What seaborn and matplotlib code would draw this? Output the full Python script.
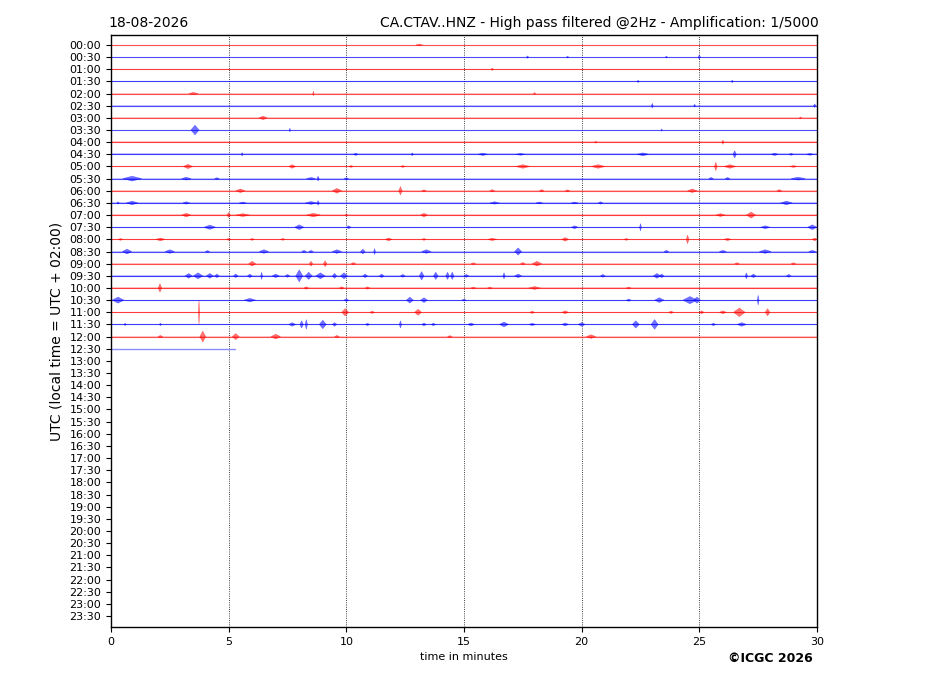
import matplotlib
matplotlib.use("Agg")
import matplotlib.pyplot as plt
import numpy as np
import pandas as pd
import seaborn as sns

sns.set_style("ticks")
plt.rcParams['font.family'] = ['DejaVu Sans']
plt.rcParams.update({"text.color": "black", "axes.labelcolor": "black",
                     "xtick.color": "black", "ytick.color": "black",
                     "axes.edgecolor": "black"})

date_label = "18-08-2026"
title_text = "CA.CTAV..HNZ - High pass filtered @2Hz - Amplification: 1/5000"
ylabel_text = "UTC (local time = UTC + 02:00)"
xlabel_text = "time in minutes"
copyright_text = "\u00a9ICGC 2026"

row_labels = [f"{h:02d}:{m:02d}" for h in range(24) for m in (0, 30)]
x_ticks = [0, 5, 10, 15, 20, 25, 30]

# end minute of each recorded row (00:00 .. 12:30)
trace_end = [30] * 25 + [5.27]
trace_colors = ["red", "blue"] * 13
# background noise half-thickness per row (row units)
row_noise = [0.03, 0.03, 0.04, 0.07, 0.04, 0.03, 0.04, 0.03, 0.07, 0.07, 0.05, 0.05, 0.05,
             0.05, 0.07, 0.05, 0.07, 0.05, 0.05, 0.06, 0.08, 0.05, 0.05, 0.05, 0.05, 0.0]

# events per row: (minute, half-amplitude in row units, duration in minutes)
events_0000 = [(13.1, 0.08, 0.3)]
events_0030 = [(17.7, 0.1, 0.1), (19.4, 0.08, 0.1), (23.6, 0.08, 0.1), (25.0, 0.18, 0.1)]
events_0100 = [(16.2, 0.1, 0.1)]
events_0130 = [(22.4, 0.1, 0.1), (26.4, 0.1, 0.1)]
events_0200 = [(3.5, 0.1, 0.4), (8.6, 0.2, 0.05), (18.0, 0.08, 0.1)]
events_0230 = [(23.0, 0.2, 0.08), (24.8, 0.12, 0.08), (29.9, 0.15, 0.1)]
events_0300 = [(6.46, 0.15, 0.35), (29.3, 0.08, 0.1)]
events_0330 = [(3.57, 0.4, 0.35), (7.6, 0.15, 0.06), (23.4, 0.1, 0.06)]
events_0400 = [(20.6, 0.08, 0.1), (26.0, 0.18, 0.08)]
events_0430 = [(5.57, 0.15, 0.06), (10.4, 0.1, 0.2), (12.8, 0.12, 0.1), (15.8, 0.1, 0.4),
               (17.4, 0.08, 0.4), (22.6, 0.12, 0.5), (26.5, 0.3, 0.15), (28.2, 0.1, 0.3),
               (28.9, 0.08, 0.2), (29.7, 0.08, 0.3)]
events_0500 = [(3.27, 0.18, 0.4), (7.7, 0.15, 0.3), (10.2, 0.08, 0.2), (12.4, 0.08, 0.2),
               (17.5, 0.15, 0.6), (20.7, 0.15, 0.6), (25.7, 0.35, 0.12), (26.3, 0.15, 0.5),
               (29.0, 0.08, 0.3)]
events_0530 = [(0.9, 0.2, 0.8), (3.2, 0.12, 0.4), (4.5, 0.08, 0.2), (8.5, 0.1, 0.4),
               (8.8, 0.2, 0.1), (10.0, 0.08, 0.2), (25.5, 0.1, 0.2), (26.2, 0.1, 0.2),
               (29.2, 0.12, 0.6)]
events_0600 = [(5.5, 0.15, 0.4), (9.6, 0.2, 0.4), (12.3, 0.35, 0.15), (13.3, 0.08, 0.2),
               (16.2, 0.1, 0.2), (18.3, 0.1, 0.2), (19.4, 0.08, 0.2), (24.7, 0.15, 0.4),
               (28.4, 0.1, 0.2)]
events_0630 = [(0.3, 0.1, 0.1), (0.9, 0.15, 0.5), (3.2, 0.1, 0.3), (5.6, 0.08, 0.3),
               (8.5, 0.12, 0.5), (8.8, 0.2, 0.1), (16.3, 0.1, 0.4), (18.2, 0.08, 0.3),
               (19.7, 0.08, 0.3), (20.8, 0.1, 0.2), (28.7, 0.15, 0.5)]
events_0700 = [(3.2, 0.15, 0.4), (5.0, 0.2, 0.15), (5.6, 0.12, 0.6), (8.6, 0.15, 0.6),
               (10.0, 0.1, 0.1), (13.3, 0.15, 0.3), (25.9, 0.12, 0.4), (27.2, 0.25, 0.4)]
events_0730 = [(4.2, 0.18, 0.5), (8.0, 0.2, 0.4), (10.1, 0.12, 0.2), (19.7, 0.12, 0.3),
               (22.5, 0.3, 0.08), (27.8, 0.12, 0.4), (29.8, 0.2, 0.4)]
events_0800 = [(0.4, 0.08, 0.2), (2.1, 0.12, 0.4), (5.0, 0.08, 0.2), (6.0, 0.08, 0.2),
               (7.3, 0.08, 0.2), (11.8, 0.12, 0.3), (13.3, 0.08, 0.2), (16.2, 0.1, 0.4),
               (19.3, 0.15, 0.3), (21.9, 0.08, 0.2), (24.5, 0.35, 0.12), (26.2, 0.1, 0.3),
               (29.9, 0.12, 0.2)]
events_0830 = [(0.68, 0.2, 0.4), (2.5, 0.15, 0.4), (4.1, 0.08, 0.2), (6.5, 0.15, 0.4),
               (8.2, 0.1, 0.2), (8.5, 0.1, 0.2), (9.6, 0.15, 0.4), (10.7, 0.2, 0.2),
               (11.2, 0.25, 0.08), (13.4, 0.15, 0.4), (17.3, 0.3, 0.3), (23.6, 0.1, 0.2),
               (26.0, 0.1, 0.3), (27.8, 0.15, 0.5), (29.8, 0.1, 0.3)]
events_0900 = [(6.0, 0.2, 0.3), (8.5, 0.2, 0.15), (9.1, 0.25, 0.15), (10.3, 0.1, 0.2),
               (15.4, 0.08, 0.2), (17.5, 0.1, 0.2), (18.1, 0.2, 0.4), (26.6, 0.08, 0.2),
               (29.0, 0.08, 0.2)]
events_0930 = [(3.3, 0.2, 0.3), (3.7, 0.25, 0.4), (4.2, 0.2, 0.3), (4.5, 0.15, 0.2),
               (5.3, 0.15, 0.2), (5.9, 0.15, 0.2), (6.4, 0.3, 0.08), (7.0, 0.15, 0.3),
               (7.5, 0.12, 0.2), (8.0, 0.5, 0.3), (8.4, 0.3, 0.3), (8.9, 0.25, 0.4),
               (9.5, 0.2, 0.2), (9.9, 0.25, 0.3), (10.8, 0.15, 0.2), (11.5, 0.15, 0.2),
               (12.4, 0.12, 0.2), (13.2, 0.35, 0.2), (13.8, 0.3, 0.2), (14.3, 0.3, 0.15),
               (14.5, 0.3, 0.15), (15.1, 0.12, 0.2), (16.7, 0.25, 0.1), (17.3, 0.15, 0.3),
               (20.9, 0.12, 0.2), (23.2, 0.2, 0.3), (23.4, 0.15, 0.2), (27.0, 0.25, 0.1),
               (27.3, 0.15, 0.2), (28.8, 0.12, 0.2)]
events_1000 = [(2.08, 0.35, 0.15), (8.3, 0.1, 0.2), (9.8, 0.1, 0.2), (10.9, 0.1, 0.2),
               (15.4, 0.08, 0.2), (16.1, 0.08, 0.2), (18.0, 0.12, 0.5), (22.0, 0.08, 0.2)]
events_1030 = [(0.3, 0.25, 0.5), (5.9, 0.15, 0.5), (10.0, 0.12, 0.2), (12.7, 0.25, 0.3),
               (13.3, 0.2, 0.3), (15.0, 0.08, 0.2), (22.0, 0.1, 0.2), (23.3, 0.2, 0.4),
               (24.6, 0.3, 0.6), (24.9, 0.25, 0.3), (27.5, 0.4, 0.08)]
events_1100 = [(3.74, 1.0, 0.06), (9.95, 0.3, 0.3), (11.1, 0.1, 0.2), (13.05, 0.25, 0.3),
               (17.9, 0.1, 0.2), (19.3, 0.12, 0.3), (23.8, 0.1, 0.2), (25.1, 0.12, 0.2),
               (26.0, 0.12, 0.3), (26.7, 0.35, 0.5), (27.9, 0.3, 0.2)]
events_1130 = [(0.6, 0.1, 0.1), (2.1, 0.1, 0.1), (7.7, 0.15, 0.3), (8.1, 0.3, 0.15),
               (8.3, 0.4, 0.1), (9.0, 0.35, 0.3), (9.5, 0.15, 0.2), (10.9, 0.1, 0.2),
               (12.3, 0.3, 0.1), (13.3, 0.12, 0.2), (13.7, 0.1, 0.2), (15.3, 0.12, 0.3),
               (16.7, 0.2, 0.4), (17.9, 0.1, 0.3), (19.3, 0.12, 0.3), (20.0, 0.15, 0.3),
               (22.3, 0.3, 0.3), (23.1, 0.4, 0.3), (25.6, 0.1, 0.2), (26.8, 0.15, 0.4)]
events_1200 = [(2.1, 0.1, 0.2), (3.9, 0.45, 0.25), (5.3, 0.25, 0.3), (7.0, 0.2, 0.4),
               (9.6, 0.1, 0.2), (14.4, 0.08, 0.2), (20.4, 0.15, 0.4)]
events_1230 = []

row_events = [events_0000, events_0030, events_0100, events_0130, events_0200, events_0230,
              events_0300, events_0330, events_0400, events_0430, events_0500, events_0530,
              events_0600, events_0630, events_0700, events_0730, events_0800, events_0830,
              events_0900, events_0930, events_1000, events_1030, events_1100, events_1130,
              events_1200, events_1230]

fig = plt.figure(figsize=(9.27, 6.96), dpi=100)
ax = fig.add_axes([111 / 927, 1 - 627 / 696, 706 / 927, 592 / 696])

light = {"red": "#ff8c8c", "blue": "#8c8cff"}
for r, (end, c, n) in enumerate(zip(trace_end, trace_colors, row_noise)):
    if n > 0:
        ax.fill_between([0, end], [r - n, r - n], [r + n, r + n], color=c, alpha=0.22, lw=0)
        sns.lineplot(x=[0.0, end], y=[r, r], color=c, lw=0.8, alpha=0.7,
                     estimator=None, sort=False, ax=ax)
    else:
        sns.lineplot(x=[0.0, end], y=[r, r], color=light[c], lw=1.0,
                     estimator=None, sort=False, ax=ax)

for r, (evs, c) in enumerate(zip(row_events, trace_colors)):
    for m, a, d in evs:
        ax.fill([m - d / 2, m, m + d / 2, m], [r, r - a, r, r + a], color=c,
                lw=0.3, alpha=0.55)

ax.set_xlim(0, 30)
ax.set_ylim(47.9, -0.82)
ax.set_xticks(x_ticks)
ax.set_xticklabels([str(t) for t in x_ticks], fontsize=8)
ax.set_yticks(range(len(row_labels)))
ax.set_yticklabels(row_labels, fontsize=8)
ax.xaxis.grid(True, linestyle=":", color="black", lw=0.6)
ax.yaxis.grid(False)
for s in ax.spines.values():
    s.set_visible(True)
    s.set_color("black")
    s.set_linewidth(1.0)

ax.set_xlabel(xlabel_text, fontsize=8)
ax.set_ylabel(ylabel_text, fontsize=10)
ax.set_title(date_label, loc="left", fontsize=10, x=-0.004)
ax.set_title(title_text, loc="right", fontsize=10, x=1.003)
fig.text(770 / 927, 1 - 658 / 696, copyright_text, ha="center", va="center",
         fontsize=9, fontweight="bold")

fig.savefig("out.png", dpi=100)
